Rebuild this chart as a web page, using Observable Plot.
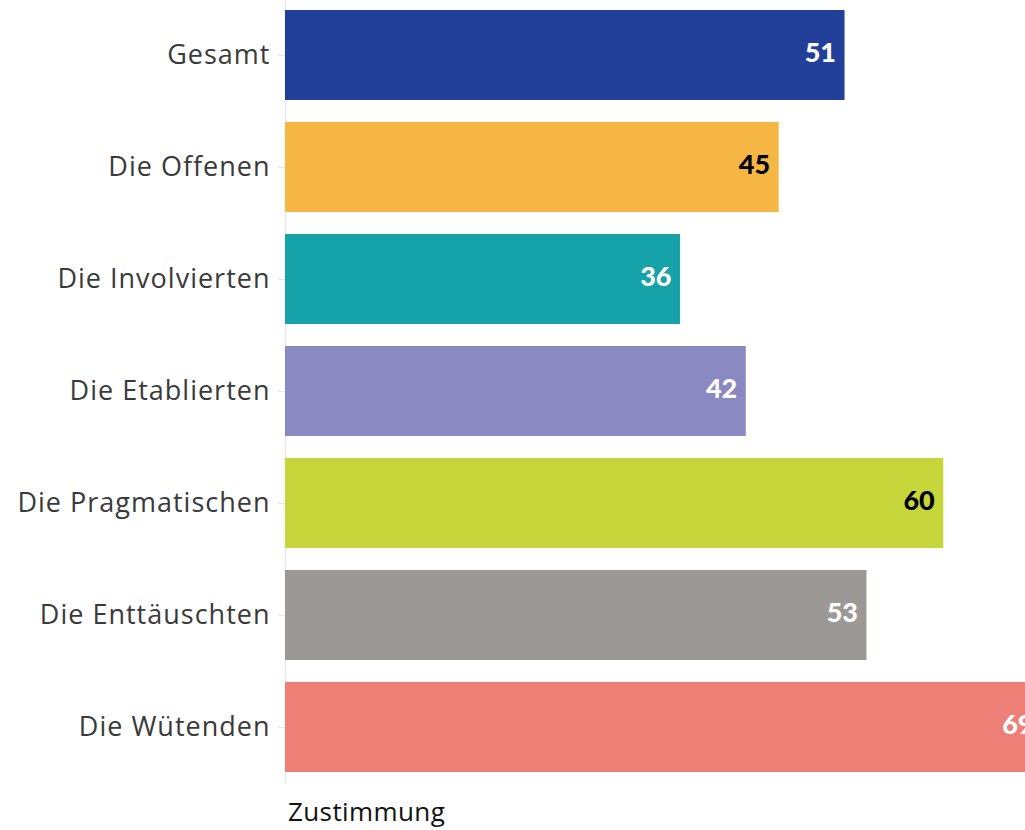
<!DOCTYPE html>
<html>
<head>
<meta charset="utf-8">
<script src="https://cdn.jsdelivr.net/npm/d3@7"></script>
<script src="https://cdn.jsdelivr.net/npm/@observablehq/plot@0.6"></script>
<style>
  html, body { margin: 0; padding: 0; background: #fff; overflow: hidden; }
  #chart { width: 1025px; }
  #chart g[aria-label="y-axis tick label"] text { letter-spacing: 1px; }
  .caption { font-family: "Open Sans", Lato, sans-serif; font-size: 26px; color: #111; margin-left: 288px; margin-top: 10px; letter-spacing: 0.4px; }
</style>
</head>
<body>
<div id="chart"></div>
<div class="caption">Zustimmung</div>
<script>
const categories = ["Gesamt", "Die Offenen", "Die Involvierten", "Die Etablierten", "Die Pragmatischen", "Die Enttäuschten", "Die Wütenden"];
const values = [51, 45, 36, 42, 60, 53, 69];
const colors = ["#22409A", "#F5B644", "#16A2A9", "#8A89C1", "#C6D63A", "#9C9896", "#EE7F77"];
const labelColors = ["white", "black", "white", "white", "black", "white", "white"];

const data = categories.map((c, i) => ({cat: c, value: values[i], color: colors[i], lc: labelColors[i]}));

const plot = Plot.plot({
  width: 1025,
  height: 783,
  marginLeft: 285,
  marginRight: 0,
  marginTop: -2,
  marginBottom: 0,
  style: {fontFamily: "'Open Sans', Lato, sans-serif", background: "white"},
  x: {domain: [0, 67.45], axis: null},
  y: {domain: categories, paddingInner: 0.2, paddingOuter: 0.1, axis: null},
  marks: [
    Plot.ruleX([0], {stroke: "#e6e6e6", strokeWidth: 1.5}),
    Plot.axisY({tickSize: 7, tickPadding: 8, stroke: "#e6e6e6", fontSize: 27, color: "#3a3a3a", label: null}),
    Plot.barX(data, {x: "value", y: "cat", fill: "color"}),
    Plot.text(data, {x: "value", y: "cat", text: d => String(d.value), fill: "lc", textAnchor: "end", dx: -9, dy: -2, fontSize: 27, fontWeight: 900, fontFamily: "Lato, 'Open Sans', sans-serif"})
  ]
});
document.getElementById("chart").appendChild(plot);
</script>
</body>
</html>
